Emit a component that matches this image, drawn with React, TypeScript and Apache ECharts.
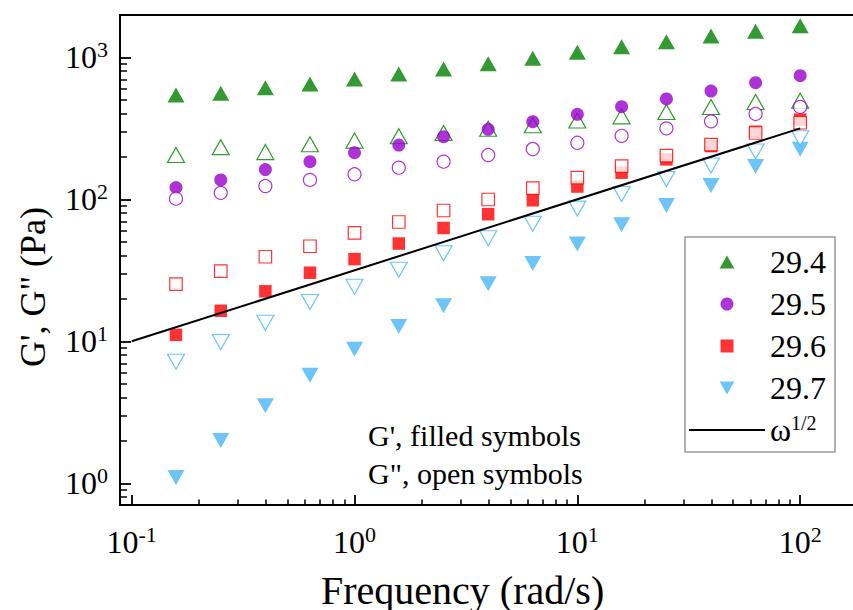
import React, { useEffect, useRef } from 'react';
import * as echarts from 'echarts';

// Angular frequency (rad/s)
const freq = [0.158, 0.251, 0.398, 0.631, 1, 1.58, 2.51, 3.98, 6.31, 10, 15.8, 25.1, 39.8, 63.1, 100];

// G' (storage modulus, filled symbols) and G'' (loss modulus, open symbols), Pa
const gp294 = [543, 558, 611, 649, 703, 763, 827, 901, 986, 1084, 1188, 1288, 1413, 1524, 1669];
const gpp294 = [205, 233, 215, 244, 259, 278, 293, 314, 332, 359, 384, 412, 447, 484, 495];
const gp295 = [121, 137, 162, 184, 213, 241, 276, 311, 352, 397, 449, 509, 579, 662, 742];
const gpp295 = [101, 111, 124, 137, 150, 167, 184, 205, 226, 250, 280, 316, 354, 399, 447];
const gp296 = [11.1, 16.4, 22.5, 30.4, 37.9, 48.8, 62.8, 78.5, 98.4, 123, 154, 191, 237, 299, 364];
const gpp296 = [25.3, 31.2, 39.4, 46.7, 58.1, 69.2, 83.4, 99.7, 120, 142, 171, 203, 243, 293, 346];
const gp297 = [1.1, 2.0, 3.51, 5.77, 8.8, 12.7, 17.8, 25.4, 35.3, 48.4, 66.1, 90.4, 125, 170, 225];
const gpp297 = [7.18, 9.89, 13.5, 18.9, 24.2, 31.9, 41.7, 53.2, 67.2, 86.0, 109, 139, 173, 217, 269];

// omega^(1/2) guide line
const omegaX = [0.1, 100];
const omegaY = [10, 316];

// tick values
const xMajorTicks = [0.1, 1, 10, 100];
const xMinorTicks = [0.2, 0.3, 0.4, 0.5, 0.6, 0.7, 0.8, 0.9, 2, 3, 4, 5, 6, 7, 8, 9, 20, 30, 40, 50, 60, 70, 80, 90];
const yMajorTicks = [1, 10, 100, 1000];
const yMinorTicks = [0.8, 0.9, 2, 3, 4, 5, 6, 7, 8, 9, 20, 30, 40, 50, 60, 70, 80, 90, 200, 300, 400, 500, 600, 700, 800, 900];

const names = ['29.4', '29.5', '29.6', '29.7'];
const colors = ['#008000', '#9900cc', '#ff0000', '#4ab5f5'];

const FONT = '"Liberation Serif", "Times New Roman", "DejaVu Serif", serif';

const pair = (xs: number[], ys: number[]) => xs.map((x, i) => [x, ys[i]]);

const powLabel = (v: number) => {
  const e = Math.round(Math.log10(v));
  return `{b|10}{s|${e}}`;
};

const labelRich = {
  b: { fontSize: 32, fontFamily: FONT, color: '#000', lineHeight: 32 },
  s: { fontSize: 22, fontFamily: FONT, color: '#000', lineHeight: 32, padding: [0, 0, 16, 0] },
};

const X_MIN = 0.0886;
const X_MAX = 199.5;
const Y_MIN = 0.703;
const Y_MAX = 1986;

export default function App() {
  const ref = useRef<HTMLDivElement>(null);

  useEffect(() => {
    if (!ref.current) return;
    const chart = echarts.init(ref.current, undefined, { renderer: 'svg' });

    const filled = (idx: number, ys: number[], symbol: string, size: any, rotate = 0) => ({
      name: names[idx],
      type: 'scatter',
      data: pair(freq, ys),
      symbol,
      symbolSize: size,
      symbolRotate: rotate,
      itemStyle: { color: colors[idx] },
      emphasis: { disabled: true },
    });
    const open = (idx: number, ys: number[], symbol: string, size: any, rotate = 0) => ({
      name: names[idx] + " G''",
      type: 'scatter',
      data: pair(freq, ys),
      symbol,
      symbolSize: size,
      symbolRotate: rotate,
      itemStyle: { color: '#ffffff', borderColor: colors[idx], borderWidth: 1.2 },
      emphasis: { disabled: true },
    });

    const option: any = {
      animation: false,
      backgroundColor: '#ffffff',
      grid: {
        left: 120,
        top: 15,
        width: 747,
        height: 490,
        show: true,
        borderColor: '#000',
        borderWidth: 2,
        backgroundColor: 'transparent',
        containLabel: false,
        outerBoundsMode: 'none',
      },
      xAxis: [
        {
          type: 'log',
          logBase: 10,
          min: X_MIN,
          max: X_MAX,
          position: 'bottom',
          axisLine: { show: true, lineStyle: { color: '#000', width: 2 } },
          axisTick: { show: true, inside: true, length: 10, lineStyle: { color: '#000', width: 1.8 }, customValues: xMajorTicks },
          axisLabel: { show: true, customValues: xMajorTicks, formatter: powLabel, rich: labelRich, margin: 21, color: '#000' },
          splitLine: { show: false },
          minorTick: { show: false },
        },
        {
          type: 'log',
          logBase: 10,
          min: X_MIN,
          max: X_MAX,
          position: 'bottom',
          axisLine: { show: false },
          axisTick: { show: true, inside: true, length: 5.5, lineStyle: { color: '#000', width: 1.5 }, customValues: xMinorTicks },
          axisLabel: { show: false },
          splitLine: { show: false },
        },
      ],
      yAxis: [
        {
          type: 'log',
          logBase: 10,
          min: Y_MIN,
          max: Y_MAX,
          position: 'left',
          axisLine: { show: true, lineStyle: { color: '#000', width: 2 } },
          axisTick: { show: true, inside: true, length: 11, lineStyle: { color: '#000', width: 1.8 }, customValues: yMajorTicks },
          axisLabel: { show: true, customValues: yMajorTicks, formatter: powLabel, rich: labelRich, margin: 12, color: '#000' },
          splitLine: { show: false },
          minorTick: { show: false },
        },
        {
          type: 'log',
          logBase: 10,
          min: Y_MIN,
          max: Y_MAX,
          position: 'left',
          axisLine: { show: false },
          axisTick: { show: true, inside: true, length: 7, lineStyle: { color: '#000', width: 1.5 }, customValues: yMinorTicks },
          axisLabel: { show: false },
          splitLine: { show: false },
        },
      ],
      legend: {
        data: [
          { name: '29.4', icon: 'path://M8,0 L16,14 L0,14 Z' },
          { name: '29.5', icon: 'circle' },
          { name: '29.6', icon: 'path://M0,0 L12,0 L12,12 L0,12 Z' },
          { name: '29.7', icon: 'path://M0,0 L16,0 L8,14 Z' },
          { name: 'ω1/2', icon: 'path://M0,0 L76,0 L76,2 L0,2 Z', itemStyle: { color: '#000' } },
        ],
        orient: 'vertical',
        left: 685,
        top: 237,
        itemWidth: 76,
        itemHeight: 13,
        itemGap: 0,
        symbolRotate: 0,
        padding: [4, 9, 1, 4],
        borderColor: '#9a9a9a',
        borderWidth: 1.5,
        backgroundColor: '#fff',
        selectedMode: false,
        formatter: (name: string) => (name === 'ω1/2' ? '{w|ω}{u|1/2}' : name),
        textStyle: {
          fontFamily: FONT,
          fontSize: 32,
          color: '#000',
          lineHeight: 42,
          rich: {
            w: { fontFamily: FONT, fontSize: 32, color: '#000', lineHeight: 42 },
            u: { fontFamily: FONT, fontSize: 20, color: '#000', lineHeight: 42, padding: [0, 0, 15, 0] },
          },
        },
      },
      graphic: [
        {
          type: 'text',
          x: 33,
          y: 287,
          rotation: Math.PI / 2,
          style: {
            text: "G', G\" (Pa)",
            font: `36px ${FONT}`,
            fill: '#000',
            align: 'center',
            verticalAlign: 'middle',
            textAlign: 'center',
            textVerticalAlign: 'middle',
          },
        },
        {
          type: 'text',
          x: 321,
          y: 590.5,
          style: {
            text: 'Frequency (rad/s)',
            font: `40px ${FONT}`,
            fill: '#000',
            align: 'left',
            verticalAlign: 'middle',
            textAlign: 'left',
            textVerticalAlign: 'middle',
          },
        },
        {
          type: 'text',
          x: 368,
          y: 435,
          style: {
            text: "G', filled symbols",
            font: `30px ${FONT}`,
            fill: '#000',
            align: 'left',
            verticalAlign: 'middle',
            textAlign: 'left',
            textVerticalAlign: 'middle',
          },
        },
        {
          type: 'text',
          x: 368,
          y: 473,
          style: {
            text: 'G", open symbols',
            font: `30px ${FONT}`,
            fill: '#000',
            align: 'left',
            verticalAlign: 'middle',
            textAlign: 'left',
            textVerticalAlign: 'middle',
          },
        },
      ],
      series: [
        filled(0, gp294, 'triangle', [17, 15]),
        open(0, gpp294, 'triangle', [17, 15]),
        filled(1, gp295, 'circle', 13),
        open(1, gpp295, 'circle', 13),
        filled(2, gp296, 'rect', 12.5),
        open(2, gpp296, 'rect', 12.5),
        filled(3, gp297, 'triangle', [17, 15], 180),
        open(3, gpp297, 'triangle', [17, 15], 180),
        {
          name: 'ω1/2',
          type: 'line',
          data: pair(omegaX, omegaY),
          symbol: 'none',
          showSymbol: false,
          color: '#000',
          itemStyle: { color: '#000' },
          lineStyle: { color: '#000', width: 2 },
          emphasis: { disabled: true },
        },
      ],
    };

    chart.setOption(option);
    return () => {
      chart.dispose();
    };
  }, []);

  return (
    <div
      ref={ref}
      style={{ position: 'fixed', left: 0, top: 0, width: 853, height: 610, background: '#fff' }}
    />
  );
}
